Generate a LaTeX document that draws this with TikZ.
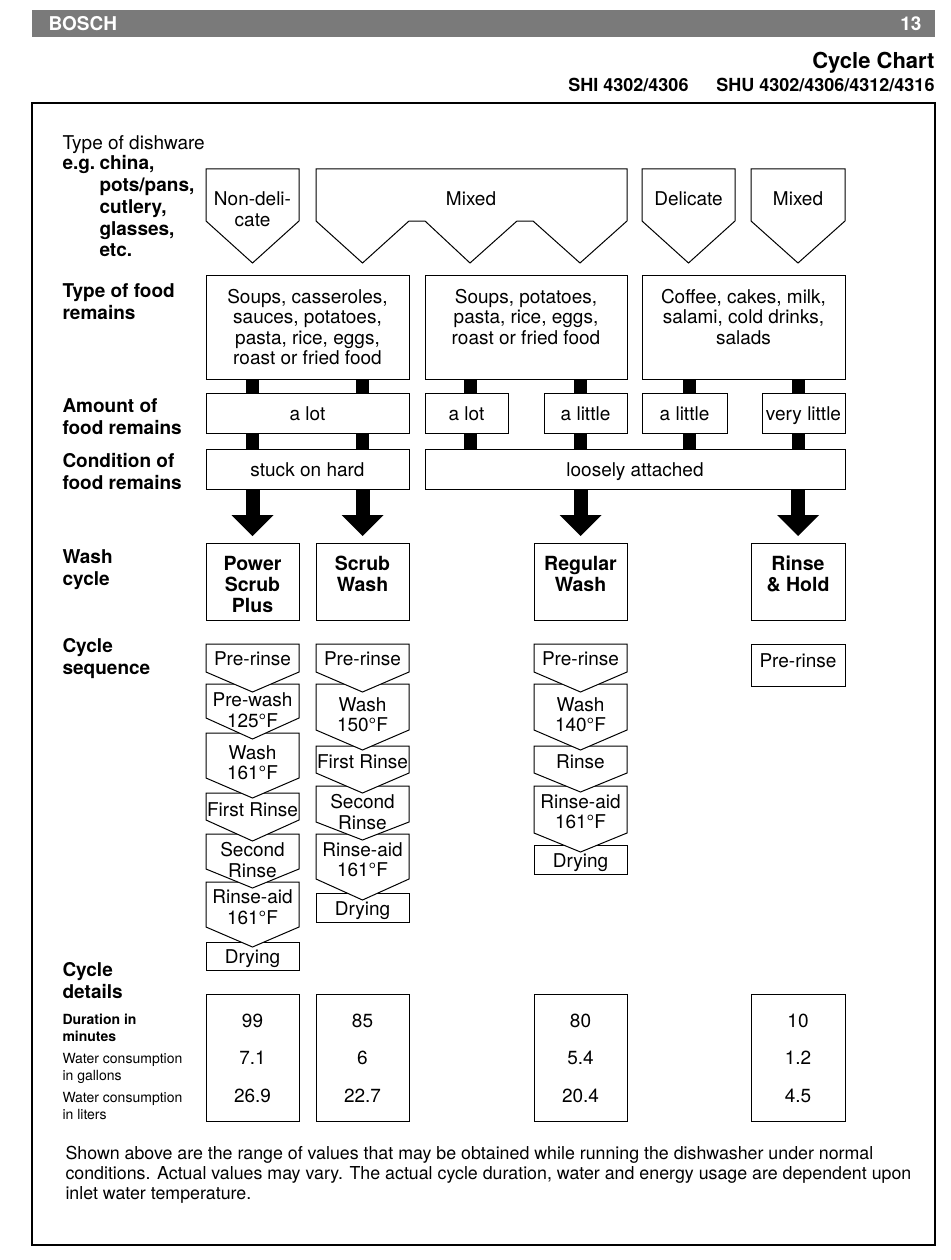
\documentclass[tikz,border=0pt]{standalone}
\usepackage{fontspec}
\setmainfont{TeX Gyre Heros}
\usetikzlibrary{arrows.meta}
\definecolor{bargray}{RGB}{122,122,122}
\newcommand{\chevron}[4]{\draw[fill=white] (#1,#2) -- (#1+93,#2) -- (#1+93,#3) -- (#1+46.5,#4) -- (#1,#3) -- cycle;}

\begin{document}
\begin{tikzpicture}[x=1pt, y=-1pt, line width=1pt,
        txt/.style={font=\fontsize{19}{20.5}\selectfont, align=center, inner sep=0pt},
        box/.style={draw, txt, minimum width=93pt},
        onebox/.style={box, text height=14pt, text depth=0pt},
        cycbox/.style={box, minimum height=77pt, text height=62pt, text depth=0pt, font=\bfseries\fontsize{19.5}{21}\selectfont},
        detbox/.style={box, minimum height=127pt, font=\fontsize{19}{37.5}\selectfont},
        lbl/.style={font=\bfseries\fontsize{19}{22}\selectfont, align=left, anchor=west, inner sep=0pt, text height=36pt, text depth=0pt},
        small/.style={font=\fontsize{14}{17.5}\selectfont, align=left, anchor=west, inner sep=0pt, text height=28pt, text depth=0pt},
        bar/.style={line width=13pt},
        bigarrow/.style={line width=14pt, -{Triangle[width=42pt, length=21pt, line width=0pt]}, shorten >=6.5pt}]
        \useasboundingbox (0,0) rectangle (950,1260);

        \fill[bargray] (32,10) rectangle (935,37);
        \node[anchor=west, inner sep=0pt, text=white, font=\bfseries\fontsize{19}{19}\selectfont] (brand) at (48,23.5) {BOSCH};
        \node[anchor=east, inner sep=0pt, text=white, font=\bfseries\fontsize{19}{19}\selectfont] (page) at (922,23.5) {13};
        \node[anchor=east, inner sep=0pt, font=\bfseries\fontsize{22}{22}\selectfont] (title) at (935,63) {Cycle Chart};
        \node[anchor=east, inner sep=0pt, font=\bfseries\fontsize{18}{18}\selectfont] (shu) at (935,85) {SHU 4302/4306/4312/4316};
        \node[anchor=east, inner sep=0pt, font=\bfseries\fontsize{18}{18}\selectfont] (shi) at (689,85) {SHI 4302/4306};
        \draw[line width=1.5pt] (32,103) rectangle (935,1245);

        \node[anchor=base west, inner sep=0pt, font=\fontsize{19}{22}\selectfont] (waretitle) at (62,150) {Type of dishware};
        \node[anchor=base west, inner sep=0pt, font=\bfseries\fontsize{19}{22}\selectfont] (eg) at (62,170) {e.g.};
        \node[anchor=base west, inner sep=0pt, font=\bfseries\fontsize{19}{22}\selectfont] (egchina) at (99,170) {china,};
        \node[lbl, font=\bfseries\fontsize{19}{21.7}\selectfont, text height=79.1pt] (warelist) at (99,217.4) {pots/pans,\\cutlery,\\glasses,\\etc.};
        \node[lbl] (foodlbl) at (62,301) {Type of food\\remains};
        \node[lbl] (amtlbl) at (62,416) {Amount of\\food remains};
        \node[lbl] (condlbl) at (62,471) {Condition of\\food remains};
        \node[lbl] (cyclbl) at (62,567) {Wash\\cycle};
        \node[lbl] (seqlbl) at (62,656) {Cycle\\sequence};
        \node[lbl] (detlbl) at (62,980) {Cycle\\details};
        \node[small, font=\bfseries\fontsize{14}{17.5}\selectfont] (durlbl) at (62,1027.5) {Duration in\\minutes};
        \node[small] (gallbl) at (62,1066.5) {Water consumption\\in gallons};
        \node[small] (litlbl) at (62,1105.5) {Water consumption\\in liters};

        \draw (206,169) -- (299,169) -- (299,221) -- (252.5,263) -- (206,221) -- cycle;
        \draw (316,169) -- (627,169) -- (627,221) -- (580,263) -- (533,221) -- (517,221) -- (470,263) -- (425,221) -- (409,221) -- (362.5,263) -- (316,221) -- cycle;
        \draw (642,169) -- (735,169) -- (735,221) -- (688.5,263) -- (642,221) -- cycle;
        \draw (751,169) -- (845,169) -- (845,221) -- (798,263) -- (751,221) -- cycle;
        \node[txt] (nondel) at (252.5,209) {Non-deli-\\cate};
        \node[txt] (mixa) at (471,198.5) {Mixed};
        \node[txt] (delic) at (688.5,198.5) {Delicate};
        \node[txt] (mixb) at (798,198.5) {Mixed};

        \node[box, minimum width=203pt, minimum height=104pt] (food1) at (307.5,327) {Soups, casseroles,\\sauces, potatoes,\\pasta, rice, eggs,\\roast or fried food};
        \node[box, minimum width=202pt, minimum height=104pt] (food2) at (526,327) {Soups, potatoes,\\pasta, rice, eggs,\\roast or fried food\\\mbox{}};
        \node[box, minimum width=203pt, minimum height=104pt] (food3) at (743.5,327) {Coffee, cakes, milk,\\salami, cold drinks,\\salads\\\mbox{}};

        \node[onebox, minimum width=203pt, minimum height=40pt] (amt1) at (307.5,413) {a lot};
        \node[onebox, minimum width=83pt, minimum height=40pt] (amt2) at (466.5,413) {a lot};
        \node[onebox, minimum width=83pt, minimum height=40pt] (amt3) at (585.5,413) {a little};
        \node[onebox, minimum width=85pt, minimum height=40pt] (amt4) at (684.5,413) {a little};
        \node[onebox, minimum width=83pt, minimum height=40pt] (amt5) at (803.5,413) {very little};

        \node[onebox, minimum width=203pt, minimum height=40pt] (cond1) at (307.5,469) {stuck on hard};
        \node[onebox, minimum width=420pt, minimum height=40pt] (cond2) at (635,469) {loosely attached};

        \node[cycbox] (cyc1) at (252.5,581.5) {Power\\Scrub\\Plus};
        \node[cycbox] (cyc2) at (362.5,581.5) {Scrub\\Wash\\\mbox{}};
        \node[cycbox] (cyc3) at (580.5,581.5) {Regular\\Wash\\\mbox{}};
        \node[cycbox, minimum width=94pt] (cyc4) at (798,581.5) {Rinse\\\& Hold\\\mbox{}};
        \coordinate (c3) at (470,0);
        \coordinate (c5) at (689,0);

        \draw[bar] (food1.south -| cyc1) -- (amt1.north -| cyc1);
        \draw[bar] (amt1.south -| cyc1) -- (cond1.north -| cyc1);
        \draw[bar] (food1.south -| cyc2) -- (amt1.north -| cyc2);
        \draw[bar] (amt1.south -| cyc2) -- (cond1.north -| cyc2);
        \draw[bar] (food2.south -| c3) -- (amt2.north -| c3);
        \draw[bar] (amt2.south -| c3) -- (cond2.north -| c3);
        \draw[bar] (food2.south -| cyc3) -- (amt3.north -| cyc3);
        \draw[bar] (amt3.south -| cyc3) -- (cond2.north -| cyc3);
        \draw[bar] (food3.south -| c5) -- (amt4.north -| c5);
        \draw[bar] (amt4.south -| c5) -- (cond2.north -| c5);
        \draw[bar] (food3.south -| cyc4) -- (amt5.north -| cyc4);
        \draw[bar] (amt5.south -| cyc4) -- (cond2.north -| cyc4);

        \draw[bigarrow] (cond1.south -| cyc1) -- (cyc1.north);
        \draw[bigarrow] (cond1.south -| cyc2) -- (cyc2.north);
        \draw[bigarrow] (cond2.south -| cyc3) -- (cyc3.north);
        \draw[bigarrow] (cond2.south -| cyc4) -- (cyc4.north);

        \node[onebox, minimum height=28pt] (dry1) at (252.5,956) {Drying};
        \chevron{206}{882}{927}{947}
        \chevron{206}{834}{869}{888}
        \chevron{206}{793}{820}{841}
        \chevron{206}{733}{778}{798}
        \chevron{206}{684}{718}{739}
        \chevron{206}{644}{672}{692}
        \node[txt] (s11) at (252.5,659) {Pre-rinse};
        \node[txt] (s12) at (252.5,710) {Pre-wash\\125°F};
        \node[txt] (s13) at (252.5,762.5) {Wash\\161°F};
        \node[txt] (s14) at (252.5,809.5) {First Rinse};
        \node[txt] (s15) at (252.5,860) {Second\\Rinse};
        \node[txt] (s16) at (252.5,907) {Rinse-aid\\161°F};

        \node[onebox, minimum height=29pt] (dry2) at (362.5,908) {Drying};
        \chevron{316}{834}{879}{900}
        \chevron{316}{786}{822}{840}
        \chevron{316}{746}{773}{793}
        \chevron{316}{684}{730}{750}
        \chevron{316}{644}{672}{692}
        \node[txt] (s21) at (362.5,659) {Pre-rinse};
        \node[txt] (s22) at (362.5,714.5) {Wash\\150°F};
        \node[txt] (s23) at (362.5,761.5) {First Rinse};
        \node[txt] (s24) at (362.5,812) {Second\\Rinse};
        \node[txt] (s25) at (362.5,859.5) {Rinse-aid\\161°F};

        \node[onebox, minimum height=29pt] (dry3) at (580.5,860) {Drying};
        \chevron{534}{786}{833}{852}
        \chevron{534}{746}{773}{792}
        \chevron{534}{684}{730}{750}
        \chevron{534}{644}{672}{692}
        \node[txt] (s31) at (580.5,659) {Pre-rinse};
        \node[txt] (s32) at (580.5,714.5) {Wash\\140°F};
        \node[txt] (s33) at (580.5,761.5) {Rinse};
        \node[txt] (s34) at (580.5,811.5) {Rinse-aid\\161°F};

        \node[onebox, minimum width=94pt, minimum height=42pt, text depth=10pt] (s41) at (798,665.5) {Pre-rinse};

        \node[detbox] (det1) at (252.5,1058) {99\\7.1\\26.9};
        \node[detbox] (det2) at (362.5,1058) {85\\6\\22.7};
        \node[detbox] (det3) at (580.5,1058) {80\\5.4\\20.4};
        \node[detbox, minimum width=94pt] (det4) at (798,1058) {10\\1.2\\4.5};

        \node[anchor=west, align=left, inner sep=0pt, font=\fontsize{17.8}{20}\selectfont] (note) at (65,1175) {Shown above are the range of values that may be obtained while running the dishwasher under normal\\conditions. Actual values may vary. The actual cycle duration, water and energy usage are dependent upon\\inlet water temperature.};
    \end{tikzpicture}
\end{document}
